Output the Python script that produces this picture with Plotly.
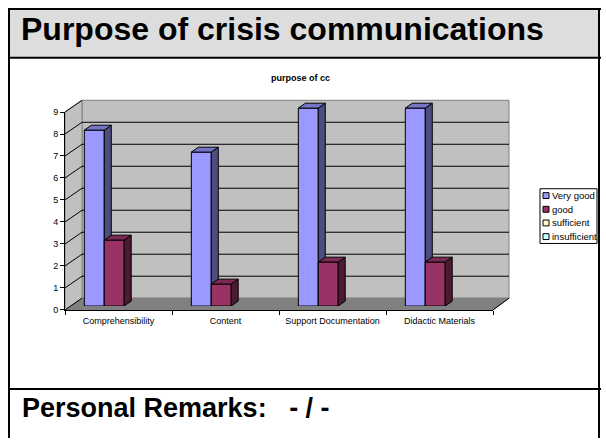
import plotly.graph_objects as go

# ---- data -------------------------------------------------------------
CATEGORIES = ["Comprehensibility", "Content", "Support Documentation", "Didactic Materials"]
SERIES_NAMES = ["Very good", "good", "sufficient", "insufficient"]
VERY_GOOD = [8, 7, 9, 9]
GOOD = [3, 1, 2, 2]
SUFFICIENT = [None, None, None, None]
INSUFFICIENT = [None, None, None, None]
Y_TICKS = [0, 1, 2, 3, 4, 5, 6, 7, 8, 9]

SERIES_VALUES = [VERY_GOOD, GOOD, SUFFICIENT, INSUFFICIENT]
FRONT_COLORS = ["#9999FF", "#993366", "#FFFFCC", "#CCFFFF"]
SIDE_COLORS = ["#4D4D80", "#4D1A33", "#80805F", "#608080"]
TOP_COLORS = ["#7575C8", "#7A2952", "#CCCCA3", "#A3CCCC"]

# ---- page geometry (pixels) -------------------------------------------
W, H = 606, 441
FONT = "Arial, Liberation Sans, sans-serif"

FRONT_X0, FRONT_X1 = 65, 493        # front edge of the floor
BASE_Y = 312                         # value 0 on the front plane
UNIT = 22.5                          # pixels per value unit
Y_MAX = 9
DEPTH_X, DEPTH_Y = 17, 12            # wall depth offset
BAR_DX, BAR_DY = 5.7, 4              # plane of the bar fronts
FACE_DX, FACE_DY = 7, 5              # bar thickness
GROUP_WIDTH = 0.745                  # share of a category used by one group


def px(x):
    return x / W


def py(y):
    return 1 - y / H


cat_px = (FRONT_X1 - FRONT_X0) / len(CATEGORIES)
positions = list(range(len(CATEGORIES)))

fig = go.Figure()

# invisible trace that sets up the category axis
fig.add_trace(go.Scatter(x=CATEGORIES, y=[0] * len(CATEGORIES), mode="markers",
                         marker=dict(opacity=0), hoverinfo="skip",
                         showlegend=False, xaxis="x", yaxis="y"))

# ---- bars: one subplot per series so the 3D faces stack correctly ----
slot = GROUP_WIDTH / len(SERIES_NAMES)
ddx = FACE_DX / cat_px
ddy = FACE_DY / UNIT
for i, (name, vals) in enumerate(zip(SERIES_NAMES, SERIES_VALUES)):
    if all(v is None for v in vals):
        continue
    ax = i + 2
    xa, ya = f"x{ax}", f"y{ax}"
    offset = -GROUP_WIDTH / 2 + i * slot
    fig.add_trace(go.Bar(x=positions, y=vals, name=name, offset=offset, width=slot,
                         marker=dict(color=FRONT_COLORS[i],
                                     line=dict(color="black", width=1)),
                         showlegend=False, xaxis=xa, yaxis=ya))
    side_x, side_y, top_x, top_y = [], [], [], []
    for p, v in zip(positions, vals):
        if v is None:
            continue
        xl = p + offset
        xr = xl + slot
        side_x += [xr, xr + ddx, xr + ddx, xr, xr, None]
        side_y += [0, ddy, v + ddy, v, 0, None]
        top_x += [xl, xl + ddx, xr + ddx, xr, xl, None]
        top_y += [v, v + ddy, v + ddy, v, v, None]
    fig.add_trace(go.Scatter(x=side_x, y=side_y, mode="lines", fill="toself",
                             fillcolor=SIDE_COLORS[i], line=dict(color="black", width=1),
                             hoverinfo="skip", showlegend=False, xaxis=xa, yaxis=ya))
    fig.add_trace(go.Scatter(x=top_x, y=top_y, mode="lines", fill="toself",
                             fillcolor=TOP_COLORS[i], line=dict(color="black", width=1),
                             hoverinfo="skip", showlegend=False, xaxis=xa, yaxis=ya))
    bar_range_top = Y_MAX + 1
    fig.update_layout(**{
        f"xaxis{ax}": dict(domain=[px(FRONT_X0 + BAR_DX), px(FRONT_X1 + BAR_DX)],
                           range=[-0.5, len(CATEGORIES) - 0.5], visible=False,
                           anchor=ya, fixedrange=True),
        f"yaxis{ax}": dict(domain=[py(BASE_Y - BAR_DY),
                                   py(BASE_Y - BAR_DY - UNIT * bar_range_top)],
                           range=[0, bar_range_top], visible=False,
                           anchor=xa, fixedrange=True),
    })

# ---- walls, floor and gridlines --------------------------------------
shapes = []
top_y_px = BASE_Y - UNIT * Y_MAX
bx0, bx1 = FRONT_X0 + DEPTH_X, FRONT_X1 + DEPTH_X - 1
by0 = BASE_Y - DEPTH_Y


def poly(pts, fill, line, width=1):
    path = "M " + " L ".join(f"{px(x)},{py(y)}" for x, y in pts) + " Z"
    return dict(type="path", path=path, xref="paper", yref="paper",
                fillcolor=fill, line=dict(color=line, width=width), layer="below")


def seg(x0, y0, x1, y1, color, width=1):
    return dict(type="line", xref="paper", yref="paper", x0=px(x0), y0=py(y0),
                x1=px(x1), y1=py(y1), line=dict(color=color, width=width), layer="below")


# back wall
shapes.append(poly([(bx0, top_y_px - DEPTH_Y), (bx1, top_y_px - DEPTH_Y),
                    (bx1, by0), (bx0, by0)], "#C0C0C0", "#808080"))
# left wall
shapes.append(poly([(FRONT_X0, BASE_Y), (FRONT_X0, top_y_px),
                    (bx0, top_y_px - DEPTH_Y), (bx0, by0)], "#C0C0C0", "#808080"))
# floor
shapes.append(poly([(FRONT_X0, BASE_Y), (FRONT_X1, BASE_Y),
                    (bx1, by0), (bx0, by0)], "#808080", "#808080"))
for t in Y_TICKS:
    yf = BASE_Y - UNIT * t
    yb = yf - DEPTH_Y
    if 0 < t < Y_MAX:
        shapes.append(seg(bx0, yb, bx1, yb, "black"))
    shapes.append(seg(FRONT_X0, yf, bx0, yb, "black"))
shapes.append(seg(FRONT_X1, BASE_Y, bx1, by0, "black"))

# ---- page table: header band and rules --------------------------------
T_LEFT, T_RIGHT, T_TOP = 9, 599, 4
HEAD_Y, FOOT_Y = 54, 393
shapes.append(dict(type="rect", xref="paper", yref="paper", x0=px(T_LEFT), x1=px(T_RIGHT),
                   y0=py(HEAD_Y), y1=py(T_TOP), fillcolor="#DDDDDD", line=dict(width=0),
                   layer="below"))

# ---- legend ----------------------------------------------------------
LEG_X0, LEG_X1, LEG_Y0, LEG_ROW = 540, 597, 188, 14
shapes.append(dict(type="rect", xref="paper", yref="paper", x0=px(LEG_X0), x1=px(LEG_X1),
                   y0=py(LEG_Y0 + LEG_ROW * len(SERIES_NAMES)), y1=py(LEG_Y0),
                   fillcolor="white", line=dict(color="black", width=1)))
annotations = []
for i, name in enumerate(SERIES_NAMES):
    cy = LEG_Y0 + LEG_ROW * (i + 0.5)
    shapes.append(dict(type="rect", xref="paper", yref="paper",
                       x0=px(LEG_X0 + 3), x1=px(LEG_X0 + 9), y0=py(cy + 3), y1=py(cy - 3),
                       fillcolor=FRONT_COLORS[i], line=dict(color="black", width=1)))
    annotations.append(dict(text=name, x=px(LEG_X0 + 10), y=py(cy), xref="paper",
                            yref="paper", xanchor="left", yanchor="middle", showarrow=False,
                            font=dict(family=FONT, size=9.5, color="black")))

for y in (T_TOP, HEAD_Y, FOOT_Y):
    shapes.append(seg(T_LEFT - 1, y, T_RIGHT + 2, y, "black", 2))
    shapes[-1]["layer"] = "above"
for x in (T_LEFT, T_RIGHT):
    shapes.append(seg(x, T_TOP - 1, x, H + 2, "black", 2))
    shapes[-1]["layer"] = "above"

annotations += [
    dict(text="Purpose of crisis communications", x=px(19), y=py(24.5), xref="paper",
         yref="paper", xanchor="left", yanchor="middle", showarrow=False,
         font=dict(family=FONT, size=32, color="black", weight="bold")),
    dict(text="purpose of cc", x=px(300), y=py(75), xref="paper", yref="paper",
         xanchor="center", yanchor="middle", showarrow=False,
         font=dict(family=FONT, size=9, color="black", weight="bold")),
    dict(text="Personal Remarks:\u00a0\u00a0\u00a0- / -", x=px(20), y=py(412.5), xref="paper",
         yref="paper", xanchor="left", yanchor="middle", showarrow=False,
         font=dict(family=FONT, size=27, color="black", weight="bold")),
]

fig.update_layout(
    width=W, height=H, margin=dict(l=0, r=0, t=0, b=0),
    paper_bgcolor="white", plot_bgcolor="rgba(0,0,0,0)",
    showlegend=False, barmode="overlay",
    shapes=shapes, annotations=annotations,
    xaxis=dict(domain=[px(FRONT_X0), px(FRONT_X1)], type="category",
               categoryorder="array", categoryarray=CATEGORIES,
               range=[-0.5, len(CATEGORIES) - 0.5], tickson="boundaries",
               ticks="outside", ticklen=4, tickcolor="black", showline=True,
               linecolor="black", linewidth=1, showgrid=False, zeroline=False,
               ticklabelstandoff=2,
               tickfont=dict(family=FONT, size=9, color="black"), anchor="y",
               fixedrange=True),
    yaxis=dict(domain=[py(BASE_Y), py(BASE_Y - UNIT * Y_MAX)], range=[0, Y_MAX],
               tickvals=Y_TICKS, ticks="outside", ticklen=4, tickcolor="black",
               showline=True, linecolor="black", linewidth=1, showgrid=False,
               zeroline=False, tickfont=dict(family=FONT, size=9, color="black"),
               anchor="x", fixedrange=True),
)

fig.write_html("out.html")
